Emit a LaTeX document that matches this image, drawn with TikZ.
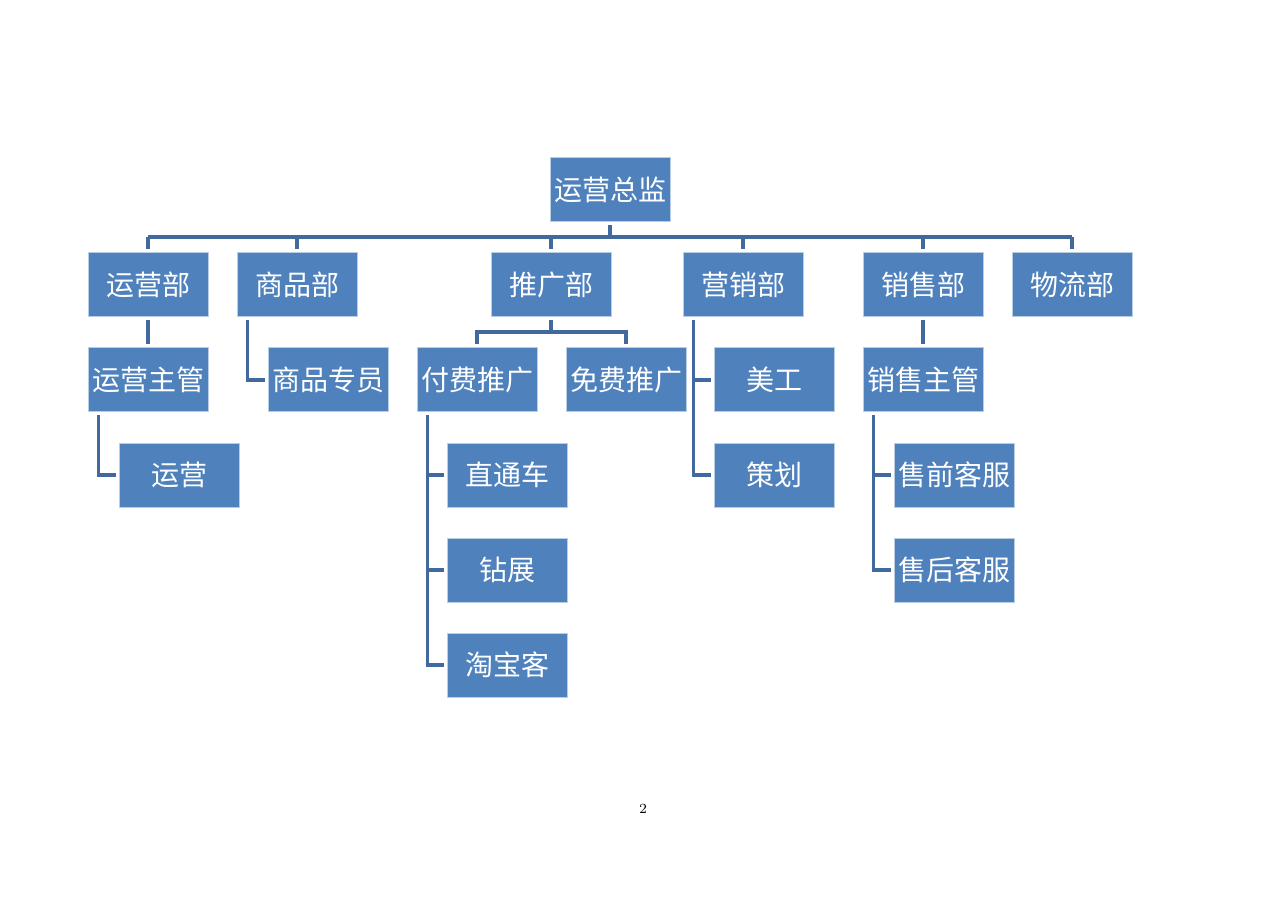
\documentclass[tikz,border=0pt]{standalone}
\usepackage{fontspec}
\newfontfamily\cjk{Noto Sans CJK SC}
\definecolor{boxblue}{HTML}{4F81BD}
\definecolor{boxedge}{HTML}{B9CDE5}
\definecolor{linkblue}{HTML}{41699E}
\tikzset{
  post/.style={draw=boxedge,line width=0.5pt,fill=boxblue,text=white,
    minimum width=60pt,minimum height=32pt,inner sep=0pt,
    font=\cjk\fontsize{14}{14}\selectfont},
  link/.style={draw=linkblue,line width=1.8pt,shorten <=1.5pt,shorten >=1.5pt}
}
\begin{document}
\begin{tikzpicture}[x=0.5pt,y=-0.5pt]
    \useasboundingbox (0,0) rectangle (1286,909);

    \node[post] (zj) at (610,190) {运营总监};

    \node[post] (yyb) at (148,285) {运营部};
    \node[post] (spb) at (297,285) {商品部};
    \node[post] (tgb) at (551,285) {推广部};
    \node[post] (yxb) at (743,285) {营销部};
    \node[post] (xsb) at (923,285) {销售部};
    \node[post] (wlb) at (1072,285) {物流部};

    \node[post] (yyzg) at (148,380) {运营主管};
    \node[post] (spzy) at (328,380) {商品专员};
    \node[post] (fftg) at (477,380) {付费推广};
    \node[post] (mftg) at (626,380) {免费推广};
    \node[post] (mg) at (774,380) {美工};
    \node[post] (xszg) at (923,380) {销售主管};

    \node[post] (yy) at (179,475) {运营};
    \node[post] (ztc) at (507,475) {直通车};
    \node[post] (ch) at (774,475) {策划};
    \node[post] (sqkf) at (954,475) {售前客服};
    \node[post] (zz) at (507,570) {钻展};
    \node[post] (shkf) at (954,570) {售后客服};
    \node[post] (tbk) at (507,665) {淘宝客};

    \node[font=\fontsize{7}{7}\selectfont] (page) at (643,809) {2};

    \coordinate (bus) at (610,237);
    \coordinate (tgbus) at (551,332);

    \draw[link,shorten >=0pt] (zj.south) -- (zj.south |- bus);
    \draw[link,shorten <=0pt,shorten >=0pt] (yyb.north |- bus) -- (wlb.north |- bus);
    \foreach \d in {yyb,spb,tgb,yxb,xsb,wlb}
      \draw[link,shorten <=0pt] (\d.north |- bus) -- (\d.north);

    \draw[link] (yyb) -- (yyzg);
    \draw[link] (xsb) -- (xszg);
    \draw[link,shorten >=0pt] (tgb.south) -- (tgbus);
    \draw[link] (fftg.north) |- (tgbus) -| (mftg.north);

    \draw[link] ([xshift=5.5pt]yyzg.south west) |- (yy.west);
    \draw[link] ([xshift=5.5pt]spb.south west) |- (spzy.west);
    \draw[link] ([xshift=5.5pt]yxb.south west) |- (mg.west);
    \draw[link] ([xshift=5.5pt]yxb.south west) |- (ch.west);
    \foreach \c in {ztc,zz,tbk}
      \draw[link] ([xshift=5.5pt]fftg.south west) |- (\c.west);
    \foreach \c in {sqkf,shkf}
      \draw[link] ([xshift=5.5pt]xszg.south west) |- (\c.west);
  \end{tikzpicture}
\end{document}
